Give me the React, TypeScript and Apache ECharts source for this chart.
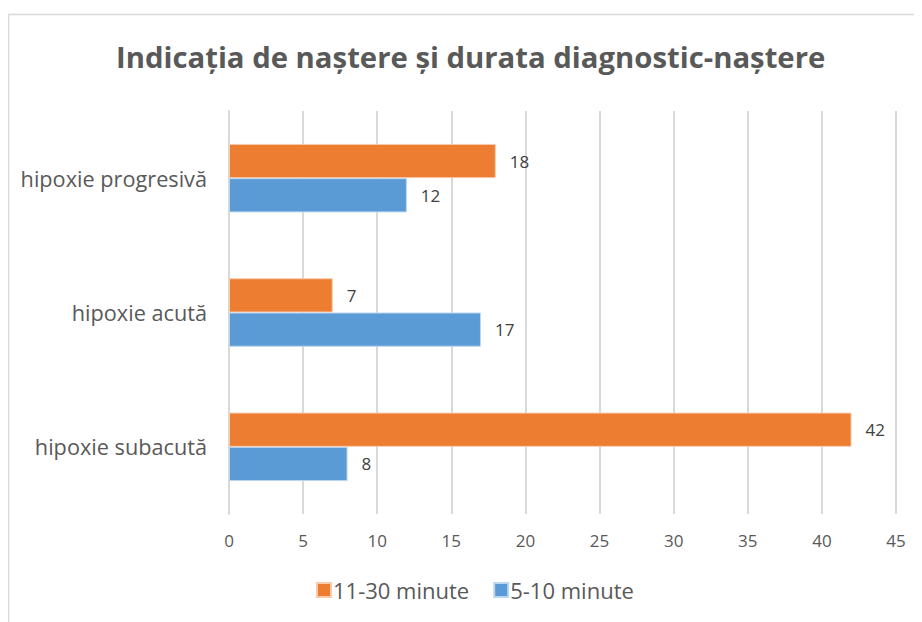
import React, { useEffect, useRef } from "react";
import * as echarts from "echarts";

const categories = ["hipoxie subacută", "hipoxie acută", "hipoxie progresivă"];
const seriesNames = ["11-30 minute", "5-10 minute"];
const orangeValues = [42, 7, 18];
const blueValues = [8, 17, 12];
const titleText = "Indicația de naștere și durata diagnostic-naștere";

export default function App() {
  const ref = useRef<HTMLDivElement>(null);
  useEffect(() => {
    if (!ref.current) return;
    const chart = echarts.init(ref.current, undefined, { renderer: "svg" });
    const font = "'Open Sans', sans-serif";
    chart.setOption({
      animation: false,
      textStyle: { fontFamily: font },
      graphic: [
        {
          type: "rect",
          shape: { x: 0.5, y: 6.5, width: 1200, height: 1200 },
          style: { fill: "none", stroke: "#d9d9d9", lineWidth: 1.5 },
          silent: true,
        },
      ],
      title: {
        text: titleText,
        left: 103,
        top: 29,
        textStyle: { fontFamily: font, fontSize: 29.3, fontWeight: "bold", color: "#595959" },
      },
      legend: {
        top: 566,
        left: 303,
        itemWidth: 14,
        itemHeight: 14,
        itemGap: 24,
        icon: "rect",
        textStyle: { fontFamily: font, fontSize: 22, color: "#595959", padding: [0, 0, 0, -3] },
        data: seriesNames,
      },
      grid: { left: 221, right: 26, top: 103, bottom: 108 },
      xAxis: {
        type: "value",
        min: 0,
        max: 45,
        interval: 5,
        axisLine: { show: false },
        axisTick: { show: false },
        splitLine: { lineStyle: { color: "#d9d9d9", width: 2 } },
        axisLabel: { fontFamily: font, fontSize: 17, color: "#595959", margin: 18 },
      },
      yAxis: {
        type: "category",
        data: categories,
        axisLine: { show: true, lineStyle: { color: "#d9d9d9", width: 2 } },
        axisTick: { show: false },
        axisLabel: { fontFamily: font, fontSize: 21.7, color: "#595959", margin: 22 },
      },
      series: [
        {
          name: seriesNames[0],
          type: "bar",
          data: orangeValues,
          barGap: "0%",
          barCategoryGap: "49%",
          itemStyle: { color: "#ed7d31", borderColor: "#f8cbad", borderWidth: 1 },
          label: { show: true, position: "right", distance: 14, fontFamily: font, fontSize: 17, color: "#404040" },
          z: 3,
        },
        {
          name: seriesNames[1],
          type: "bar",
          data: blueValues,
          barGap: "0%",
          barCategoryGap: "49%",
          itemStyle: { color: "#5b9bd5", borderColor: "#bdd7ee", borderWidth: 1 },
          label: { show: true, position: "right", distance: 14, fontFamily: font, fontSize: 17, color: "#404040" },
          z: 3,
        },
      ],
    });
    return () => chart.dispose();
  }, []);
  return <div ref={ref} style={{ width: 914, height: 614 }} />;
}
